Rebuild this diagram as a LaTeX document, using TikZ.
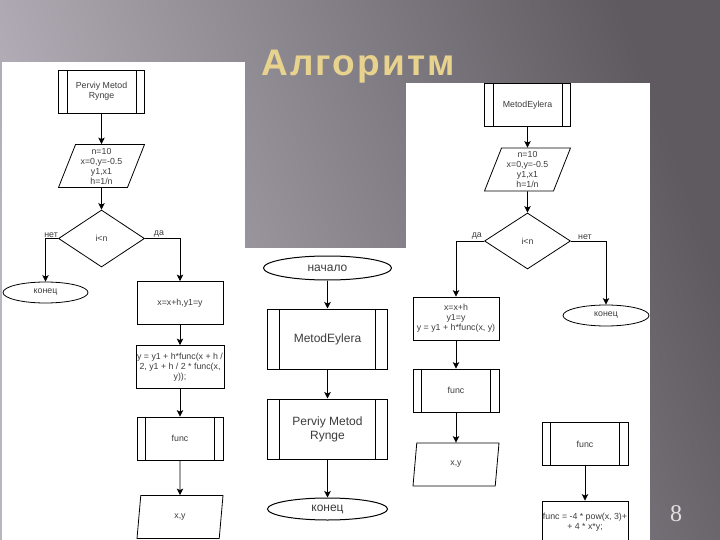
\documentclass[tikz,border=0pt]{standalone}
\usepackage{fontspec}
\setmainfont{Liberation Sans}
\newfontfamily\numfont{Liberation Serif}
\usetikzlibrary{positioning,arrows.meta,shapes.geometric}
\definecolor{bglight}{RGB}{186,181,190}
\definecolor{bgdark}{RGB}{94,90,96}
\definecolor{ttlgold}{RGB}{231,210,142}
\definecolor{fctext}{RGB}{60,60,60}

\begin{document}
\begin{tikzpicture}[x=1pt,y=-1pt,>={Stealth[length=6.5pt,width=6.5pt,inset=1.5pt]},
   blk/.style={draw, rectangle, align=center, text=fctext,
               minimum width=86pt, minimum height=43pt, inner sep=1pt,
               font=\fontsize{8.8}{10}\selectfont},
   subr/.style={blk, path picture={
       \draw ([xshift=#1]path picture bounding box.north west) -- ([xshift=#1]path picture bounding box.south west)
             ([xshift=-#1]path picture bounding box.north east) -- ([xshift=-#1]path picture bounding box.south east);}},
   subr/.default=8.5pt,
   io/.style={draw, trapezium, trapezium left angle=66, trapezium right angle=114,
              trapezium stretches body, align=center, text=fctext,
              minimum width=86pt, minimum height=43pt, inner sep=1pt,
              font=\fontsize{8.8}{10}\selectfont},
   dec/.style={draw, diamond, minimum width=86pt, minimum height=57pt, inner sep=0pt,
               text=fctext, font=\fontsize{8.8}{10}\selectfont},
   term/.style={draw, ellipse, minimum width=85pt, minimum height=21pt, inner sep=0pt,
                text=fctext, font=\fontsize{8.8}{10}\selectfont},
   big/.style={line width=1pt, font=\fontsize{12}{14}\selectfont},
   lbl/.style={inner sep=1pt, text=fctext, font=\fontsize{8.8}{10}\selectfont},
   arr/.style={->, line width=0.8pt}]
  \clip (0,0) rectangle (720,540);
  % slide background
  \shade[left color=bglight, right color=bgdark, shading angle=110] (0,0) rectangle (720,540);
  \node[anchor=base west, inner sep=0pt, text=ttlgold,
        font=\fontsize{37}{40}\selectfont\bfseries\addfontfeature{LetterSpace=6}]
    (title) at (261,76) {Алгоритм};
  \node[anchor=base, inner sep=0pt, text=white!88!black, font=\numfont\fontsize{24}{26}\selectfont]
    (pagenum) at (676,521) {8};
  % white panels
  \fill[white] (2,62) rectangle (245,540);
  \fill[white] (245,248) rectangle (406,540);
  \fill[white] (406,83) rectangle (650,540);

  % left panel: Runge
  \node[subr, line width=0.8pt] (lsub) at (101.5,91.5) {Perviy Metod\\Rynge};
  \node[io, line width=0.8pt] (lpar) at (101.5,166) {n=10\\x=0,y=-0.5\\y1,x1\\h=1/n};
  \node[dec, line width=0.8pt] (ldec) at (101.5,238.5) {i<n};
  \node[term, line width=0.8pt] (lend) at (45.5,292.5) {конец};
  \node[blk, line width=0.8pt] (lstep) at (180,303) {x=x+h,y1=y};
  \node[blk, line width=0.8pt] (lcalc) at (180,367) {y = y1 + h*func(x + h /\\2, y1 + h / 2 * func(x,\\y));};
  \node[subr, line width=0.8pt] (lfunc) at (180,438.5) {func};
  \node[io, line width=0.8pt] (lout) at (180,517) {x,y};
  \draw[arr] (lsub) -- (lpar);
  \draw[arr] (lpar) -- (ldec);
  \draw[arr] (ldec.west) -| node[lbl, pos=0.28, above] {нет} (lend.north);
  \draw[arr] (ldec.east) -| node[lbl, pos=0.2, above] {да} (lstep.north);
  \draw[arr] (lstep) -- (lcalc);
  \draw[arr] (lcalc) -- (lfunc);
  \draw[arr] (lfunc) -- (lout);

  % middle panel: main
  \node[term, big, minimum width=128pt, minimum height=24pt] (mstart) at (327.5,268) {начало};
  \node[subr=12pt, big, minimum width=120pt, minimum height=60pt] (meul) at (327.5,339) {MetodEylera};
  \node[subr=12pt, big, minimum width=120pt, minimum height=60pt] (mrk) at (327.5,429) {Perviy Metod\\Rynge};
  \node[term, big, minimum width=120pt, minimum height=22pt] (mend) at (327.5,509) {конец};
  \draw[arr, line width=1pt] (mstart) -- (meul);
  \draw[arr, line width=1pt] (meul) -- (mrk);
  \draw[arr, line width=1pt] (mrk) -- (mend);

  % right panel: Euler
  \node[subr, line width=0.8pt] (rsub) at (527.5,105) {MetodEylera};
  \node[io, line width=0.8pt] (rpar) at (527.5,169.5) {n=10\\x=0,y=-0.5\\y1,x1\\h=1/n};
  \node[dec, line width=0.8pt, minimum height=56pt] (rdec) at (527.5,241) {i<n};
  \node[blk, line width=0.8pt] (rstep) at (456,318.5) {x=x+h\\y1=y\\y = y1 + h*func(x, y)};
  \node[term, line width=0.8pt, minimum width=86pt] (rend) at (606,315.5) {конец};
  \node[subr, line width=0.8pt] (rfunc) at (456,390.5) {func};
  \node[io, line width=0.8pt] (rout) at (456,464.5) {x,y};
  \node[subr, line width=0.8pt] (ffunc) at (585,444) {func};
  \node[blk, line width=0.8pt] (fbody) at (585,522.5) {func = -4 * pow(x, 3)+\\+ 4 * x*y;};
  \draw[arr] (rsub) -- (rpar);
  \draw[arr] (rpar) -- (rdec);
  \draw[arr] (rdec.west) -| node[lbl, pos=0.13, above] {да} (rstep.north);
  \draw[arr] (rdec.east) -| node[lbl, pos=0.2, above] {нет} (rend.north);
  \draw[arr] (rstep) -- (rfunc);
  \draw[arr] (rfunc) -- (rout);
  \draw[arr] (ffunc) -- (fbody);
\end{tikzpicture}
\end{document}
